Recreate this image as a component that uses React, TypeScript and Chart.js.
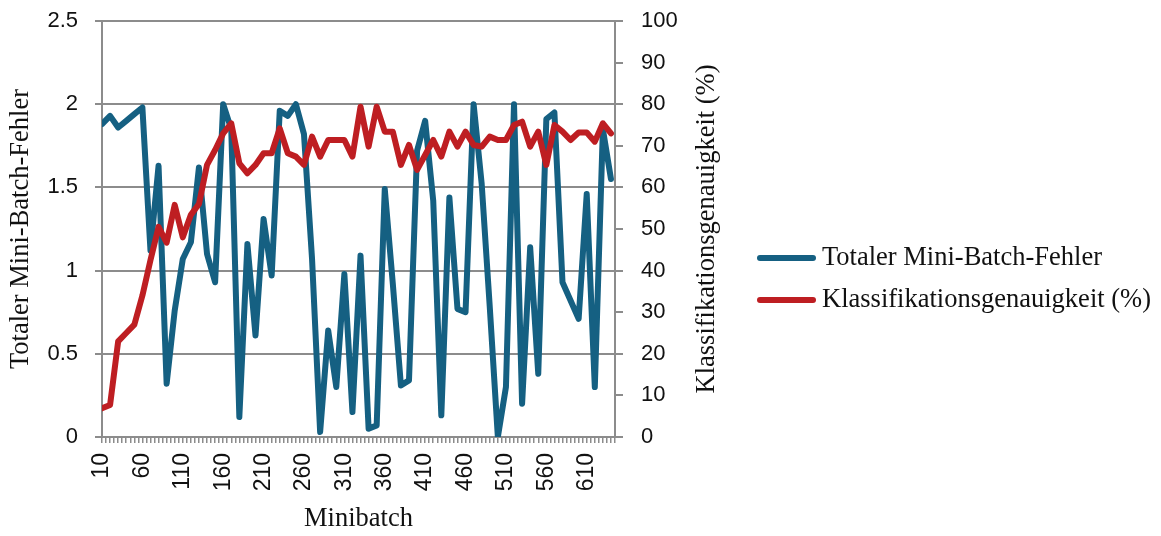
import React, { useEffect, useRef } from 'react';
import { Chart, registerables } from 'chart.js';

Chart.register(...registerables);

// Minibatch index (x values)
const minibatches: number[] = [
  10, 20, 30, 40, 50, 60, 70, 80, 90, 100,
  110, 120, 130, 140, 150, 160, 170, 180, 190, 200,
  210, 220, 230, 240, 250, 260, 270, 280, 290, 300,
  310, 320, 330, 340, 350, 360, 370, 380, 390, 400,
  410, 420, 430, 440, 450, 460, 470, 480, 490, 500,
  510, 520, 530, 540, 550, 560, 570, 580, 590, 600,
  610, 620, 630, 640,
];

// Total mini-batch error (left axis)
const fehler: number[] = [
  1.88, 1.93, 1.86, 1.90, 1.94, 1.98, 1.12, 1.63, 0.32, 0.76,
  1.07, 1.17, 1.62, 1.10, 0.93, 2.00, 1.85, 0.12, 1.16, 0.61,
  1.31, 0.97, 1.96, 1.93, 2.00, 1.82, 1.07, 0.03, 0.64, 0.30,
  0.98, 0.15, 1.09, 0.05, 0.07, 1.49, 0.92, 0.31, 0.34, 1.72,
  1.90, 1.42, 0.13, 1.44, 0.77, 0.75, 2.00, 1.52, 0.78, 0.00,
  0.30, 2.00, 0.20, 1.14, 0.38, 1.91, 1.95, 0.93, 0.82, 0.71,
  1.46, 0.30, 1.85, 1.55,
];

// Classification accuracy in % (right axis)
const genauigkeit: number[] = [
  6.9, 7.7, 23.0, 25.0, 27.0, 34.0, 42.5, 50.5, 46.7, 55.8,
  48.0, 53.4, 56.0, 65.4, 69.0, 73.0, 75.4, 65.8, 63.4, 65.4,
  68.2, 68.2, 74.2, 68.2, 67.4, 65.4, 72.2, 67.4, 71.4, 71.4,
  71.4, 67.4, 79.4, 69.8, 79.4, 73.4, 73.4, 65.4, 70.2, 64.2,
  67.8, 71.4, 67.4, 73.4, 69.8, 73.4, 70.2, 69.8, 72.2, 71.4,
  71.4, 75.0, 75.8, 69.8, 73.4, 65.4, 75.0, 73.4, 71.4, 73.2,
  73.2, 71.0, 75.4, 73.0,
];

const xTickLabels: string[] = ['10', '60', '110', '160', '210', '260', '310', '360', '410', '460', '510', '560', '610'];
const yLeftTickLabels: string[] = ['0', '0.5', '1', '1.5', '2', '2.5'];
const yRightTickLabels: string[] = ['0', '10', '20', '30', '40', '50', '60', '70', '80', '90', '100'];

const seriesNames: string[] = ['Totaler Mini-Batch-Fehler', 'Klassifikationsgenauigkeit (%)'];
const seriesColors: string[] = ['#156082', '#BE1E22'];

const xTitle = 'Minibatch';
const yLeftTitle = 'Totaler Mini-Batch-Fehler';
const yRightTitle = 'Klassifikationsgenauigkeit (%)';

const W = 1161;
const H = 536;
const SANS = '"Liberation Sans", Arial, sans-serif';
const SERIF = '"Liberation Serif", "Times New Roman", serif';
const GRID = '#8c8c8c';
const TEXT = '#111111';

const overlayPlugin = {
  id: 'overlay',
  afterDraw(chart: any) {
    const { ctx, chartArea } = chart;
    ctx.save();
    // right axis title (reads bottom-to-top)
    ctx.font = `26.5px ${SERIF}`;
    ctx.fillStyle = TEXT;
    ctx.textAlign = 'center';
    ctx.textBaseline = 'middle';
    ctx.translate(707, (chartArea.top + chartArea.bottom) / 2);
    ctx.rotate(-Math.PI / 2);
    ctx.fillText(yRightTitle, 0, 0);
    ctx.restore();

    // legend
    ctx.save();
    const ys = [258, 300];
    seriesNames.forEach((name, i) => {
      ctx.strokeStyle = seriesColors[i];
      ctx.lineWidth = 6;
      ctx.lineCap = 'round';
      ctx.beginPath();
      ctx.moveTo(760, ys[i]);
      ctx.lineTo(813, ys[i]);
      ctx.stroke();
      ctx.font = `26.5px ${SERIF}`;
      ctx.fillStyle = TEXT;
      ctx.textAlign = 'left';
      ctx.textBaseline = 'middle';
      ctx.fillText(name, 822, ys[i]);
    });
    ctx.restore();
  },
};

const noVerticalPadding = (s: any, width: number) => {
  s.width = width;
  s.paddingTop = 0;
  s.paddingBottom = 0;
};

export default function App() {
  const canvasRef = useRef<HTMLCanvasElement | null>(null);

  useEffect(() => {
    const canvas = canvasRef.current;
    if (!canvas) return;
    const chart = new Chart(canvas, {
      type: 'line',
      data: {
        datasets: [
          {
            label: seriesNames[0],
            data: minibatches.map((m, i) => ({ x: m, y: fehler[i] })),
            borderColor: seriesColors[0],
            backgroundColor: seriesColors[0],
            borderWidth: 6,
            pointRadius: 0,
            tension: 0,
            borderJoinStyle: 'round',
            borderCapStyle: 'round',
            yAxisID: 'y',
            order: 1,
          },
          {
            label: seriesNames[1],
            data: minibatches.map((m, i) => ({ x: m, y: genauigkeit[i] })),
            borderColor: seriesColors[1],
            backgroundColor: seriesColors[1],
            borderWidth: 6,
            pointRadius: 0,
            tension: 0,
            borderJoinStyle: 'round',
            borderCapStyle: 'round',
            yAxisID: 'y1',
            order: 0,
          },
        ],
      },
      options: {
        responsive: false,
        animation: false,
        events: [],
        layout: { padding: { left: 0, right: 431, top: 21, bottom: 0 } },
        plugins: {
          legend: { display: false },
          tooltip: { enabled: false },
          title: { display: false },
        },
        scales: {
          x: {
            type: 'linear',
            min: 10,
            max: 645,
            afterFit: (s: any) => {
              s.height = H - 437;
              s.paddingLeft = 0;
              s.paddingRight = 0;
            },
            ticks: {
              stepSize: 5,
              autoSkip: false,
              minRotation: 90,
              maxRotation: 90,
              padding: 10,
              color: TEXT,
              font: { family: SANS, size: 23 },
              callback: (v: any) => (xTickLabels.includes(String(v)) ? String(v) : ''),
            },
            grid: {
              drawOnChartArea: false,
              drawTicks: true,
              tickLength: 6,
              color: GRID,
              lineWidth: 1.5,
            },
            border: { display: true, color: GRID, width: 2 },
            title: {
              display: true,
              text: xTitle,
              color: TEXT,
              font: { family: SERIF, size: 26.5 },
              padding: { top: 0, bottom: 1 },
            },
          },
          y: {
            type: 'linear',
            position: 'left',
            min: 0,
            max: 2.5,
            afterFit: (s: any) => noVerticalPadding(s, 102),
            ticks: {
              stepSize: 0.5,
              padding: 17,
              color: TEXT,
              font: { family: SANS, size: 22 },
              callback: (_v: any, i: number) => yLeftTickLabels[i],
            },
            grid: {
              drawOnChartArea: true,
              drawTicks: true,
              tickLength: 7,
              color: GRID,
              lineWidth: 2,
            },
            border: { display: true, color: GRID, width: 2 },
            title: {
              display: true,
              text: yLeftTitle,
              color: TEXT,
              font: { family: SERIF, size: 26.5 },
              padding: { top: 5, bottom: 0 },
            },
          },
          y1: {
            type: 'linear',
            position: 'right',
            min: 0,
            max: 100,
            afterFit: (s: any) => noVerticalPadding(s, 115),
            ticks: {
              stepSize: 10,
              padding: 18,
              color: TEXT,
              font: { family: SANS, size: 22 },
              callback: (_v: any, i: number) => yRightTickLabels[i],
            },
            grid: {
              drawOnChartArea: false,
              drawTicks: true,
              tickLength: 8,
              color: GRID,
              lineWidth: 2,
            },
            border: { display: true, color: GRID, width: 2 },
          },
        },
      },
      plugins: [overlayPlugin],
    } as any);
    return () => chart.destroy();
  }, []);

  return (
    <div style={{ position: 'fixed', left: 0, top: 0, width: W, height: H, background: '#fff' }}>
      <canvas ref={canvasRef} width={W} height={H} style={{ width: W, height: H, display: 'block' }} />
    </div>
  );
}
